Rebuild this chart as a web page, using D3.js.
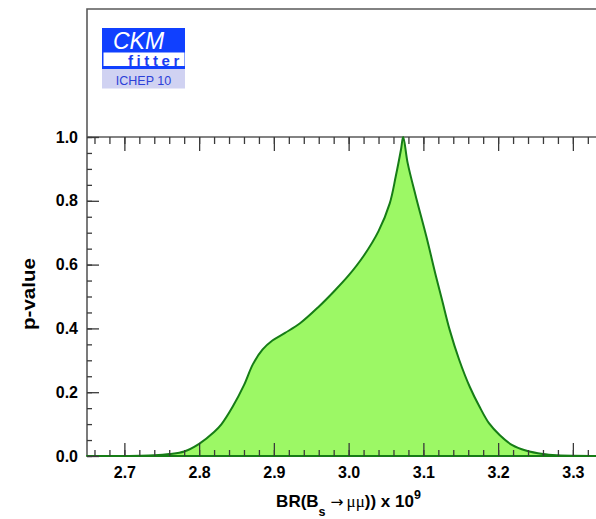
<!DOCTYPE html>
<html>
<head>
<meta charset="utf-8">
<script src="https://cdn.jsdelivr.net/npm/d3@7"></script>
<style>
  html, body { margin: 0; padding: 0; background: #fff; }
  svg { display: block; font-family: "Liberation Sans", Arial, Helvetica, sans-serif; }
</style>
</head>
<body>
<svg id="chart" width="596" height="519"></svg>
<script>
// Branching ratio BR(Bs -> mu mu) x 10^9 and the corresponding p-value profile
const brValues = [2.65, 2.70, 2.72, 2.74, 2.76, 2.78, 2.80, 2.82, 2.83, 2.845, 2.86, 2.872, 2.885, 2.898,
  2.915, 2.935, 2.96, 2.98, 3.00, 3.02, 3.04, 3.055, 3.063, 3.070, 3.073, 3.079, 3.09, 3.104, 3.117,
  3.125, 3.135, 3.148, 3.162, 3.175, 3.188, 3.202, 3.219, 3.237, 3.26, 3.28, 3.30, 3.33, 3.35];
const pValues = [0, 0, 0.0005, 0.002, 0.006, 0.014, 0.038, 0.075, 0.10, 0.155, 0.222, 0.288, 0.334, 0.362,
  0.386, 0.416, 0.468, 0.515, 0.566, 0.627, 0.705, 0.792, 0.876, 0.96, 1.0, 0.918, 0.813, 0.688, 0.562,
  0.489, 0.397, 0.301, 0.217, 0.155, 0.102, 0.066, 0.034, 0.017, 0.006, 0.002, 0.0005, 0, 0];

const xTicks = [2.7, 2.8, 2.9, 3.0, 3.1, 3.2, 3.3];
const xMinorTicks = d3.range(133, 168).map(i => i / 50);   // every 0.02
const yTicks = [0.0, 0.2, 0.4, 0.6, 0.8, 1.0];
const yMinorTicks = d3.range(0, 21).map(i => i / 20);        // every 0.05

const svg = d3.select("#chart");
const plotLeft = 87, plotBottom = 456, plotTop = 137, frameTop = 9;

const x = d3.scaleLinear().domain([2.65, 3.35]).range([plotLeft, plotLeft + 0.7 * 747.5]);
const y = d3.scaleLinear().domain([0, 1]).range([plotBottom, plotTop]);

const data = brValues.map((b, i) => ({ b, p: pValues[i] }));

// filled p-value region
const area = d3.area()
  .x(d => x(d.b))
  .y0(y(0))
  .y1(d => y(d.p))
  .curve(d3.curveCatmullRom.alpha(0.5));

// frame lines
const frameColor = "#5a5a5a";
svg.append("path")
  .attr("d", `M${plotLeft},${plotBottom}V${frameTop}H${x(3.35)}`)
  .attr("fill", "none").attr("stroke", frameColor).attr("stroke-width", 1.6);
svg.append("line")
  .attr("x1", plotLeft).attr("x2", x(3.35)).attr("y1", plotTop).attr("y2", plotTop)
  .attr("stroke", frameColor).attr("stroke-width", 1.6);
svg.append("line")
  .attr("x1", plotLeft).attr("x2", x(3.35)).attr("y1", plotBottom).attr("y2", plotBottom)
  .attr("stroke", frameColor).attr("stroke-width", 1.6);

svg.append("path")
  .datum(data)
  .attr("d", area)
  .attr("fill", "#9cf865")
  .attr("stroke", "#167d16")
  .attr("stroke-width", 2)
  .attr("stroke-linejoin", "round");

// axes with inward ticks
function styleAxis(g) {
  g.select(".domain").remove();
  g.selectAll(".tick line").attr("stroke", "#3a3a3a").attr("stroke-width", 1.3);
  g.selectAll(".tick text")
    .attr("fill", "#000")
    .attr("font-size", 16)
    .attr("font-weight", "bold")
    .attr("font-family", "'Liberation Sans', Arial, sans-serif");
}

svg.append("g").attr("transform", `translate(0,${plotBottom})`)
  .call(d3.axisBottom(x).tickValues(xMinorTicks).tickSize(-6).tickFormat(""))
  .call(styleAxis);
svg.append("g").attr("transform", `translate(0,${plotBottom})`)
  .call(d3.axisBottom(x).tickValues(xTicks).tickSize(-13).tickPadding(11).tickFormat(d3.format(".1f")))
  .call(styleAxis);

svg.append("g").attr("transform", `translate(0,${plotTop})`)
  .call(d3.axisTop(x).tickValues(xMinorTicks).tickSize(-7).tickFormat(""))
  .call(styleAxis);
svg.append("g").attr("transform", `translate(0,${plotTop})`)
  .call(d3.axisTop(x).tickValues(xTicks).tickSize(-14).tickFormat(""))
  .call(styleAxis);

svg.append("g").attr("transform", `translate(${plotLeft},0)`)
  .call(d3.axisLeft(y).tickValues(yMinorTicks).tickSize(-5).tickFormat(""))
  .call(styleAxis);
svg.append("g").attr("transform", `translate(${plotLeft},0)`)
  .call(d3.axisLeft(y).tickValues(yTicks).tickSize(-12).tickPadding(9).tickFormat(d3.format(".1f")))
  .call(styleAxis);

// axis titles
svg.append("text")
  .attr("transform", `translate(35,294) rotate(-90)`)
  .attr("text-anchor", "middle")
  .attr("font-size", 18)
  .attr("font-weight", "bold")
  .attr("textLength", 72)
  .attr("lengthAdjust", "spacingAndGlyphs")
  .text("p-value");

const xt = svg.append("text")
  .attr("x", 348.5).attr("y", 507)
  .attr("text-anchor", "middle")
  .attr("font-size", 17)
  .attr("font-weight", "bold");
xt.append("tspan").text("BR(B");
xt.append("tspan").attr("font-size", 12.5).attr("dy", 9).text("s");
xt.append("tspan").attr("dy", -9).attr("dx", 5).attr("font-weight", "normal")
  .attr("font-family", "'DejaVu Sans', sans-serif").attr("font-size", 15.5).text("\u2192");
xt.append("tspan").attr("dx", 3).attr("font-weight", "normal")
  .attr("font-family", "'Liberation Serif', serif").text("\u03bc\u03bc");
xt.append("tspan").text(")) x 10");
xt.append("tspan").attr("font-size", 12.5).attr("dy", -8).text("9");

// CKMfitter badge
const logo = svg.append("g");
logo.append("rect").attr("x", 102).attr("y", 28).attr("width", 83).attr("height", 41).attr("fill", "#1040ff");
logo.append("rect").attr("x", 103.5).attr("y", 52.5).attr("width", 81).attr("height", 13.5).attr("fill", "#fff");
logo.append("text").attr("x", 113).attr("y", 48.5).attr("fill", "#fff")
  .attr("font-size", 23).attr("font-style", "italic").text("CKM");
logo.append("text").attr("x", 128).attr("y", 65.5).attr("fill", "#1a3cf0")
  .attr("font-size", 15).attr("font-weight", "bold").attr("letter-spacing", 3.6).text("fitter");
logo.append("rect").attr("x", 102).attr("y", 69).attr("width", 83).attr("height", 19.5).attr("fill", "#d0d2f2");
logo.append("text").attr("x", 143.5).attr("y", 84.5).attr("text-anchor", "middle").attr("fill", "#2b40d8")
  .attr("font-size", 12.5).text("ICHEP 10");
</script>
</body>
</html>
